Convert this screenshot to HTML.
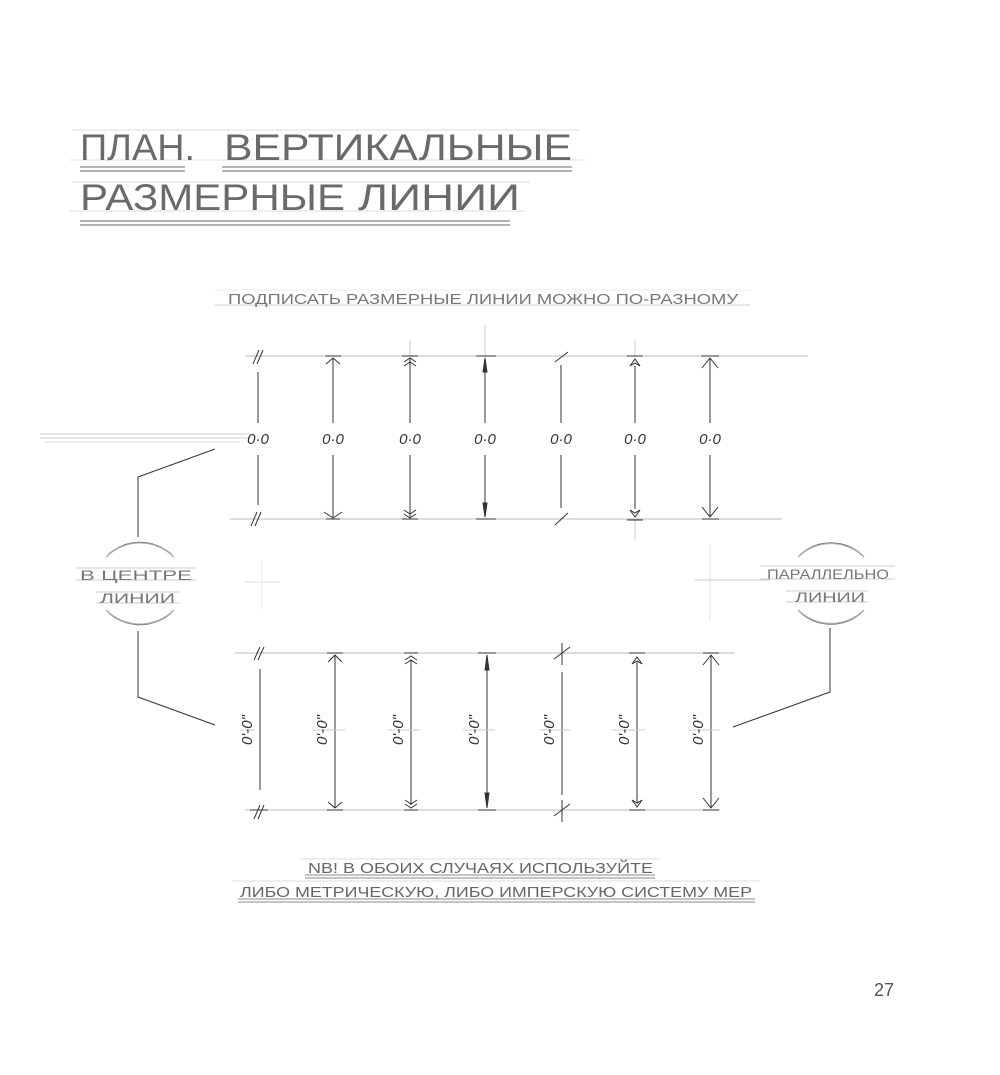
<!DOCTYPE html>
<html><head><meta charset="utf-8"><style>
html,body{margin:0;padding:0;background:#fff;}
svg{display:block;}
text{font-family:"Liberation Sans","DejaVu Sans",sans-serif;}
</style></head><body>
<svg width="1000" height="1075" viewBox="0 0 1000 1075" xmlns="http://www.w3.org/2000/svg">
<rect width="1000" height="1075" fill="#fff"/>
<!-- Title -->
<g stroke="#ddd" stroke-width="1">
<line x1="72" y1="130" x2="580" y2="130"/><line x1="70" y1="160" x2="585" y2="160"/>
<line x1="72" y1="182" x2="530" y2="182"/><line x1="70" y1="211" x2="525" y2="211"/>
</g>
<g stroke="#888" stroke-width="1.2">
<line x1="80" y1="167" x2="185" y2="167"/><line x1="80" y1="171" x2="185" y2="171"/>
<line x1="222" y1="167" x2="572" y2="167"/><line x1="222" y1="171" x2="572" y2="171"/>
<line x1="80" y1="221" x2="510" y2="221"/><line x1="80" y1="225" x2="510" y2="225"/>
</g>
<g fill="#6a6a6a" font-size="37">
<text x="80" y="160" textLength="115" lengthAdjust="spacingAndGlyphs">ПЛАН.</text>
<text x="224" y="160" textLength="348" lengthAdjust="spacingAndGlyphs">ВЕРТИКАЛЬНЫЕ</text>
<text x="80" y="210" textLength="265" lengthAdjust="spacingAndGlyphs">РАЗМЕРНЫЕ</text>
<text x="358" y="210" textLength="162" lengthAdjust="spacingAndGlyphs">ЛИНИИ</text>
</g>
<!-- subtitle -->
<line x1="215" y1="305" x2="750" y2="305" stroke="#ccc"/>
<line x1="215" y1="290" x2="750" y2="290" stroke="#eee"/>
<text x="228" y="304" font-size="15" fill="#777" textLength="510" lengthAdjust="spacingAndGlyphs">ПОДПИСАТЬ РАЗМЕРНЫЕ ЛИНИИ МОЖНО ПО-РАЗНОМУ</text>

<!-- top section extension lines -->
<g stroke="#bbb" stroke-width="1">
<line x1="245" y1="356" x2="808" y2="356"/>
<line x1="230" y1="519" x2="782" y2="519"/>
<line x1="40" y1="434" x2="250" y2="434" stroke="#ccc"/>
<line x1="40" y1="438" x2="250" y2="438" stroke="#ccc"/>
<line x1="45" y1="442" x2="240" y2="442" stroke="#ddd"/>
<line x1="410" y1="340" x2="410" y2="356" stroke="#ccc"/>
<line x1="485" y1="325" x2="485" y2="356" stroke="#ccc"/>
<line x1="635" y1="340" x2="635" y2="356" stroke="#ccc"/>
<line x1="635" y1="519" x2="635" y2="540" stroke="#ccc"/>
<line x1="710" y1="545" x2="710" y2="620" stroke="#ddd"/>
<line x1="695" y1="580" x2="770" y2="580" stroke="#ccc"/>
<line x1="245" y1="582" x2="280" y2="582" stroke="#ddd"/>
<line x1="262" y1="560" x2="262" y2="610" stroke="#eee"/>
</g>
<g stroke="#333" stroke-width="1" fill="none">
<line x1="258" y1="372" x2="258" y2="423"/><line x1="258" y1="455" x2="258" y2="505"/>
<path d="M253 364 L259 350 M257 364 L263 350 M251 526 L257 512 M255 526 L261 512"/>
<line x1="333" y1="358" x2="333" y2="423"/><line x1="333" y1="455" x2="333" y2="517"/>
<path d="M325 356 H341 M326 364 L333 358 L340 364 M324 512 L333 518 L342 512 M326 519 H340"/>
<line x1="410" y1="358" x2="410" y2="423"/><line x1="410" y1="455" x2="410" y2="517"/>
<path d="M402 356 H418 M404 362 L410 358 L416 362 M404 366 L410 362 L416 366 M404 510 L410 514 L416 510 M404 514 L410 518 L416 514 M402 519 H418"/>
<line x1="485" y1="358" x2="485" y2="423"/><line x1="485" y1="455" x2="485" y2="517"/>
<path d="M476 356 H496 M476 519 H496"/>
<path d="M483 372 L485 358 L487 372 Z M483 503 L485 517 L487 503 Z" fill="#333"/>
<line x1="561" y1="365" x2="561" y2="423"/><line x1="561" y1="455" x2="561" y2="508"/>
<path d="M555 362 L568 352 M555 525 L568 513"/>
<line x1="635" y1="366" x2="635" y2="423"/><line x1="635" y1="455" x2="635" y2="509"/>
<path d="M627 356 H643 M630 366 L635 359 L640 366 L635 363 Z M630 510 L635 517 L640 510 L635 513 Z M627 520 H643"/>
<line x1="710" y1="358" x2="710" y2="423"/><line x1="710" y1="455" x2="710" y2="517"/>
<path d="M701 356 H719 M702 368 L710 358 L718 368 M702 507 L710 517 L718 507 M702 519 H719"/>
</g>
<g fill="#333" font-size="15" font-style="italic">
<text x="258" y="444" text-anchor="middle">0·0</text>
<text x="333" y="444" text-anchor="middle">0·0</text>
<text x="410" y="444" text-anchor="middle">0·0</text>
<text x="485" y="444" text-anchor="middle">0·0</text>
<text x="561" y="444" text-anchor="middle">0·0</text>
<text x="635" y="444" text-anchor="middle">0·0</text>
<text x="710" y="444" text-anchor="middle">0·0</text>
</g>

<!-- bottom section -->
<g stroke="#bbb" stroke-width="1">
<line x1="235" y1="653" x2="735" y2="653"/>
<line x1="245" y1="810" x2="720" y2="810"/>
</g>
<g stroke="#333" stroke-width="1" fill="none">
<line x1="260" y1="669" x2="260" y2="790"/>
<path d="M254 660 L260 647 M258 660 L264 647 M254 819 L260 805 M258 819 L264 805 M250 810 H268"/>
<line x1="335" y1="655" x2="335" y2="808"/>
<path d="M327 653 H343 M328 662 L335 655 L342 662 M328 802 L335 808 L342 802 M327 810 H343"/>
<line x1="411" y1="660" x2="411" y2="805"/>
<path d="M404 653 H418 M405 660 L411 656 L417 660 M405 664 L411 660 L417 664 M405 800 L411 804 L417 800 M405 804 L411 808 L417 804 M404 810 H418"/>
<line x1="487" y1="655" x2="487" y2="808"/>
<path d="M478 653 H496 M478 810 H496"/>
<path d="M485 670 L487 655 L489 670 Z M485 793 L487 808 L489 793 Z" fill="#333"/>
<line x1="562" y1="672" x2="562" y2="795"/>
<path d="M562 643 V665 M554 659 L570 647 M562 800 V822 M554 816 L570 804"/>
<line x1="637" y1="662" x2="637" y2="803"/>
<path d="M629 653 H645 M632 664 L637 657 L642 664 L637 661 Z M632 800 L637 807 L642 800 L637 803 Z M629 810 H645"/>
<line x1="711" y1="655" x2="711" y2="808"/>
<path d="M703 653 H719 M703 665 L711 655 L719 665 M703 798 L711 808 L719 798 M703 810 H719"/>
</g>
<g stroke="#ccc" stroke-width="1">
<line x1="240" y1="730" x2="255" y2="730"/><line x1="312" y1="730" x2="345" y2="730"/>
<line x1="388" y1="730" x2="420" y2="730"/><line x1="463" y1="730" x2="495" y2="730"/>
<line x1="540" y1="730" x2="570" y2="730"/><line x1="612" y1="730" x2="645" y2="730"/>
<line x1="688" y1="730" x2="720" y2="730"/>
</g>
<g fill="#333" font-size="15" font-style="italic">
<text transform="translate(252,730) rotate(-90)" text-anchor="middle">0'-0"</text>
<text transform="translate(327,730) rotate(-90)" text-anchor="middle">0'-0"</text>
<text transform="translate(403,730) rotate(-90)" text-anchor="middle">0'-0"</text>
<text transform="translate(479,730) rotate(-90)" text-anchor="middle">0'-0"</text>
<text transform="translate(554,730) rotate(-90)" text-anchor="middle">0'-0"</text>
<text transform="translate(629,730) rotate(-90)" text-anchor="middle">0'-0"</text>
<text transform="translate(703,730) rotate(-90)" text-anchor="middle">0'-0"</text>
</g>

<!-- left callout -->
<g fill="none" stroke="#555" stroke-width="1.3">
<path d="M108 555 A47 47 0 0 1 172 555"/>
<path d="M106 557 A48 48 0 0 1 174 557" stroke="#aaa"/>
<path d="M108 612 A47 47 0 0 0 172 612"/>
<path d="M106 610 A48 48 0 0 0 174 610" stroke="#aaa"/>
</g>
<g stroke="#333" stroke-width="1" fill="none">
<path d="M138 537 V477 L215 449"/>
<path d="M138 631 V697 L215 725"/>
</g>
<g stroke="#ccc"><line x1="76" y1="568" x2="196" y2="568"/><line x1="76" y1="580" x2="196" y2="580"/>
<line x1="96" y1="592" x2="180" y2="592"/><line x1="96" y1="603" x2="180" y2="603"/></g>
<text x="80" y="580" font-size="14" fill="#777" textLength="112" lengthAdjust="spacingAndGlyphs">В ЦЕНТРЕ</text>
<text x="100" y="603" font-size="14" fill="#777" textLength="75" lengthAdjust="spacingAndGlyphs">ЛИНИИ</text>

<!-- right callout -->
<g fill="none" stroke="#555" stroke-width="1.3">
<path d="M800 555 A46 46 0 0 1 862 555"/>
<path d="M798 557 A47 47 0 0 1 864 557" stroke="#aaa"/>
<path d="M800 612 A46 46 0 0 0 862 612"/>
<path d="M798 610 A47 47 0 0 0 864 610" stroke="#aaa"/>
</g>
<g stroke="#333" stroke-width="1" fill="none">
<path d="M830 628 V692 L733 727"/>
</g>
<g stroke="#ccc"><line x1="760" y1="566" x2="895" y2="566"/><line x1="760" y1="579" x2="895" y2="579"/>
<line x1="786" y1="591" x2="868" y2="591"/><line x1="786" y1="602" x2="868" y2="602"/></g>
<text x="767" y="579" font-size="14" fill="#777" textLength="122" lengthAdjust="spacingAndGlyphs">ПАРАЛЛЕЛЬНО</text>
<text x="795" y="602" font-size="14" fill="#777" textLength="70" lengthAdjust="spacingAndGlyphs">ЛИНИИ</text>

<!-- bottom note -->
<g stroke="#888" stroke-width="1">
<line x1="305" y1="875" x2="655" y2="875"/><line x1="305" y1="878" x2="655" y2="878"/>
<line x1="238" y1="899" x2="755" y2="899"/><line x1="238" y1="902" x2="755" y2="902"/>
</g>
<g stroke="#ddd"><line x1="300" y1="859" x2="660" y2="859"/><line x1="232" y1="881" x2="760" y2="881"/></g>
<text x="308" y="873" font-size="15" fill="#666" textLength="345" lengthAdjust="spacingAndGlyphs">NB! В ОБОИХ СЛУЧАЯХ ИСПОЛЬЗУЙТЕ</text>
<text x="240" y="897" font-size="15" fill="#666" textLength="512" lengthAdjust="spacingAndGlyphs">ЛИБО МЕТРИЧЕСКУЮ, ЛИБО ИМПЕРСКУЮ СИСТЕМУ МЕР</text>

<text x="874" y="996" font-family="Liberation Serif, serif" font-size="18" fill="#555">27</text>
</svg>
</body></html>
